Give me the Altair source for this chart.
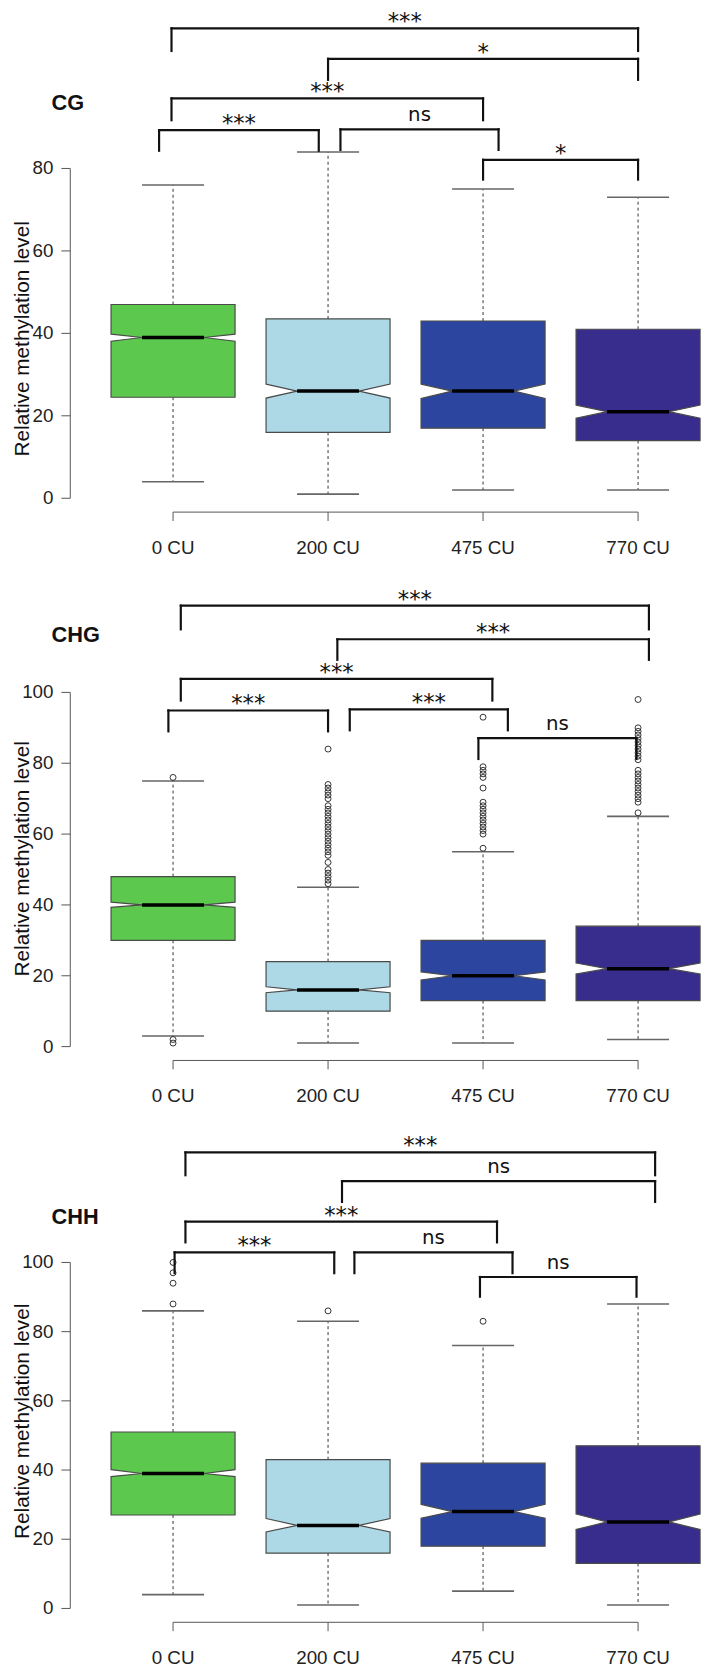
import altair as alt
import pandas as pd

# ---------------- data ----------------
groups = ["0 CU", "200 CU", "475 CU", "770 CU"]
positions = [1, 2, 3, 4]
box_colors = ["#5CC84E", "#ADD8E6", "#2C46A0", "#382C8C"]

# CG
cg_whisker_low = [4, 1, 2, 2]
cg_q1 = [24.5, 16, 17, 14]
cg_notch_low = [38.1, 24.3, 24.2, 19.4]
cg_median = [39, 26, 26, 21]
cg_notch_high = [39.8, 27.7, 27.7, 22.6]
cg_q3 = [47, 43.5, 43, 41]
cg_whisker_high = [76, 84, 75, 73]
cg_outliers = [[], [], [], []]
cg_ticks = [0, 20, 40, 60, 80]
cg_br_left = [0.99, 2.00, 0.99, 0.91, 2.08, 3.00]
cg_br_right = [4.00, 4.00, 3.00, 1.94, 3.10, 4.00]
cg_br_height = [114.0, 106.6, 97.0, 89.3, 89.5, 82.1]
cg_br_end = [108.5, 101.5, 91.7, 84.3, 84.5, 77.3]
cg_br_label = ["***", "*", "***", "***", "ns", "*"]

# CHG
chg_whisker_low = [3, 1, 1, 2]
chg_q1 = [30, 10, 13, 13]
chg_notch_low = [39.3, 15.2, 18.8, 20.5]
chg_median = [40, 16, 20, 22]
chg_notch_high = [40.8, 16.9, 21.1, 23.6]
chg_q3 = [48, 24, 30, 34]
chg_whisker_high = [75, 45, 55, 65]
chg_outliers = [
    [76, 2, 1],
    [46, 47, 48, 49, 50, 52, 54, 55, 56, 57, 58, 59, 60, 61, 62, 63, 64,
     65, 66, 67, 68, 70, 71, 72, 73, 74, 84],
    [56, 60, 61, 62, 63, 64, 65, 66, 67, 68, 69, 73, 76, 77, 78, 79, 93],
    [66, 69, 70, 71, 72, 73, 74, 75, 76, 77, 78, 81, 82, 83, 84, 85, 86,
     87, 88, 89, 90, 98],
]
chg_ticks = [0, 20, 40, 60, 80, 100]
chg_br_left = [1.05, 2.06, 1.05, 0.97, 2.14, 2.97]
chg_br_right = [4.07, 4.07, 3.06, 2.00, 3.16, 3.99]
chg_br_height = [124.5, 115.0, 103.8, 94.9, 95.2, 87.1]
chg_br_end = [117.8, 109.2, 97.7, 89.0, 89.3, 81.2]
chg_br_label = ["***", "***", "***", "***", "***", "ns"]

# CHH
chh_whisker_low = [4, 1, 5, 1]
chh_q1 = [27, 16, 18, 13]
chh_notch_low = [38.1, 22.1, 26.1, 22.8]
chh_median = [39, 24, 28, 25]
chh_notch_high = [40.1, 26, 30.1, 27.3]
chh_q3 = [51, 43, 42, 47]
chh_whisker_high = [86, 83, 76, 88]
chh_outliers = [[88, 94, 97, 100], [86], [83], []]
chh_ticks = [0, 20, 40, 60, 80, 100]
chh_br_left = [1.08, 2.09, 1.08, 1.01, 2.17, 2.98]
chh_br_right = [4.11, 4.11, 3.09, 2.04, 3.19, 3.99]
chh_br_height = [131.8, 123.5, 111.8, 102.9, 102.9, 95.8]
chh_br_end = [125.2, 117.5, 105.8, 96.9, 96.9, 90.1]
chh_br_label = ["***", "ns", "***", "***", "ns", "ns"]

# ---------------- styling / layout ----------------
FONT_NUM = "Liberation Sans Narrow, Arial Narrow, Liberation Sans, Arial, sans-serif"
FONT = "Liberation Sans, Arial, sans-serif"
FONT_SIG = "DejaVu Sans, sans-serif"
W, H = 638, 1665
XSC = alt.Scale(domain=[0.337, 4.406], nice=False, zero=False)
CSC = alt.Scale(domain=groups, range=box_colors)
BOX_HALF, NOTCH_HALF = 0.4, 0.2
AXIS_GREY = "#555555"


def xq(field):
    return alt.X(field, type="quantitative", scale=XSC, axis=None)


def panel(name, wlo, q1, nlo, med, nhi, q3, whi, outliers,
          br_l, br_r, br_h, br_e, br_lab, ticks, ydom, title_y, label_y):
    ysc = alt.Scale(domain=ydom, nice=False, zero=False)

    def yq(field):
        return alt.Y(field, type="quantitative", scale=ysc, axis=None, stack=None)

    stats = pd.DataFrame(dict(group=groups, pos=positions, wlo=wlo, q1=q1,
                              med=med, q3=q3, whi=whi))
    stats["lft"] = stats["pos"] - NOTCH_HALF
    stats["rgt"] = stats["pos"] + NOTCH_HALF
    stats["zero"] = 0

    # notched box outline, built as a lower and an upper half
    rows = []
    for g, p, a, b, c, d, e in zip(groups, positions, q1, nlo, med, nhi, q3):
        xs = [p - BOX_HALF, p - NOTCH_HALF, p + NOTCH_HALF, p + BOX_HALF]
        for x, top in zip(xs, [b, c, c, b]):
            rows.append(dict(group=g, piece=g + "-lo", x=x, y0=a, y1=top))
        for x, bot in zip(xs, [d, c, c, d]):
            rows.append(dict(group=g, piece=g + "-hi", x=x, y0=bot, y1=e))
    shape = pd.DataFrame(rows)

    out_rows = [dict(group=g, pos=p, v=v)
                for g, p, vals in zip(groups, positions, outliers) for v in vals]
    out = pd.DataFrame(out_rows if out_rows else [dict(group=groups[0], pos=1, v=-999)])

    seg = []
    for l, r, h, e in zip(br_l, br_r, br_h, br_e):
        seg += [dict(a=l, b=r, c=h, d=h), dict(a=l, b=l, c=h, d=e), dict(a=r, b=r, c=h, d=e)]
    segs = pd.DataFrame(seg)
    labs = pd.DataFrame(dict(xm=[(l + r) / 2 for l, r in zip(br_l, br_r)], h=br_h, lab=br_lab))

    axline = pd.DataFrame(dict(lo=[ticks[0]], hi=[ticks[-1]], x1=[positions[0]],
                               x2=[positions[-1]], zero=[0]))
    tick_df = pd.DataFrame(dict(t=ticks))

    whisk_hi = alt.Chart(stats).mark_rule(color="#333", strokeDash=[3, 3], strokeWidth=1).encode(
        x=xq("pos"), y=yq("q3"), y2="whi:Q")
    whisk_lo = alt.Chart(stats).mark_rule(color="#333", strokeDash=[3, 3], strokeWidth=1).encode(
        x=xq("pos"), y=yq("q1"), y2="wlo:Q")
    cap_hi = alt.Chart(stats).mark_rule(color="#666", strokeWidth=1.6).encode(
        x=xq("lft"), x2="rgt:Q", y=yq("whi"))
    cap_lo = alt.Chart(stats).mark_rule(color="#666", strokeWidth=1.6).encode(
        x=xq("lft"), x2="rgt:Q", y=yq("wlo"))
    box = alt.Chart(shape).mark_area(interpolate="linear", orient="vertical",
                                     stroke="#4a4a4a", strokeWidth=1.2, opacity=1).encode(
        x=xq("x"), y=yq("y0"), y2="y1:Q",
        color=alt.Color("group:N", scale=CSC, legend=None),
        detail="piece:N")
    median = alt.Chart(stats).mark_rule(color="black", strokeWidth=3.5).encode(
        x=xq("lft"), x2="rgt:Q", y=yq("med"))
    pts = alt.Chart(out).mark_point(shape="circle", filled=False, size=36,
                                    stroke="#333", strokeWidth=1, opacity=1).encode(
        x=xq("pos"), y=yq("v"))
    yline = alt.Chart(axline).mark_rule(color=AXIS_GREY, strokeWidth=1).encode(
        x=alt.value(0), y=yq("lo"), y2="hi:Q")
    yticks = alt.Chart(tick_df).mark_rule(color=AXIS_GREY, strokeWidth=1).encode(
        x=alt.value(0), x2=alt.value(-9), y=yq("t"))
    ylabels = alt.Chart(tick_df).mark_text(align="right", baseline="middle", font=FONT_NUM,
                                           fontSize=19, color="#222").encode(
        x=alt.value(-17), y=yq("t"), text=alt.Text("t:Q", format="d"))
    ytitle = alt.Chart(pd.DataFrame(dict(tt=["Relative methylation level"]))).mark_text(
        angle=270, align="center", baseline="middle", font=FONT, fontSize=21,
        color="#111").encode(x=alt.value(-48), y=alt.value(title_y), text="tt:N")
    xline = alt.Chart(axline).mark_rule(color=AXIS_GREY, strokeWidth=1, yOffset=14).encode(
        x=xq("x1"), x2="x2:Q", y=yq("zero"))
    xticks = alt.Chart(stats).mark_rule(color=AXIS_GREY, strokeWidth=1, yOffset=14, y2Offset=23).encode(
        x=xq("pos"), y=yq("zero"), y2="zero:Q")
    xlabels = alt.Chart(stats).mark_text(yOffset=50, baseline="middle", font=FONT_NUM,
                                         fontSize=19, color="#222").encode(
        x=xq("pos"), y=yq("zero"), text="group:N")
    brackets = alt.Chart(segs).mark_rule(color="#111", strokeWidth=2.2, strokeCap="square").encode(
        x=xq("a"), x2="b:Q", y=yq("c"), y2="d:Q")
    star_txt = alt.Chart(labs).transform_filter(alt.datum.lab != "ns").mark_text(
        baseline="alphabetic", yOffset=1, font=FONT_SIG, fontSize=23, color="#111").encode(
        x=xq("xm"), y=yq("h"), text="lab:N")
    ns_txt = alt.Chart(labs).transform_filter(alt.datum.lab == "ns").mark_text(
        baseline="alphabetic", yOffset=-8.5, font=FONT_SIG, fontSize=20, color="#111").encode(
        x=xq("xm"), y=yq("h"), text="lab:N")
    title = alt.Chart(pd.DataFrame(dict(name=[name]))).mark_text(
        align="left", baseline="middle", font=FONT, fontWeight="bold", fontSize=22,
        color="#111").encode(x=alt.value(-19), y=alt.value(label_y), text="name:N")

    return alt.layer(whisk_hi, whisk_lo, cap_hi, cap_lo, box, median, pts, yline, yticks,
                     ylabels, ytitle, xline, xticks, xlabels, brackets, star_txt, ns_txt, title)


p1 = panel("CG", cg_whisker_low, cg_q1, cg_notch_low, cg_median, cg_notch_high, cg_q3,
           cg_whisker_high, cg_outliers, cg_br_left, cg_br_right, cg_br_height, cg_br_end,
           cg_br_label, cg_ticks, [-282.66, 116.62], 325, 87)
p2 = panel("CHG", chg_whisker_low, chg_q1, chg_notch_low, chg_median, chg_notch_high, chg_q3,
           chg_whisker_high, chg_outliers, chg_br_left, chg_br_right, chg_br_height, chg_br_end,
           chg_br_label, chg_ticks, [-174.16, 290.54], 851, 625)
p3 = panel("CHH", chh_whisker_low, chh_q1, chh_notch_low, chh_median, chh_notch_high, chh_q3,
           chh_whisker_high, chh_outliers, chh_br_left, chh_br_right, chh_br_height, chh_br_end,
           chh_br_label, chh_ticks, [-15.91, 459.8], 1420, 1213)

chart = alt.layer(p1, p2, p3).resolve_scale(y="independent").properties(
    width=W, height=H,
    autosize=alt.AutoSizeParams(type="none"),
    padding={"left": 63, "top": 0, "right": 0, "bottom": 0},
).configure_view(stroke=None)

chart.save("out.html", embed_options={"renderer": "svg", "actions": False})
